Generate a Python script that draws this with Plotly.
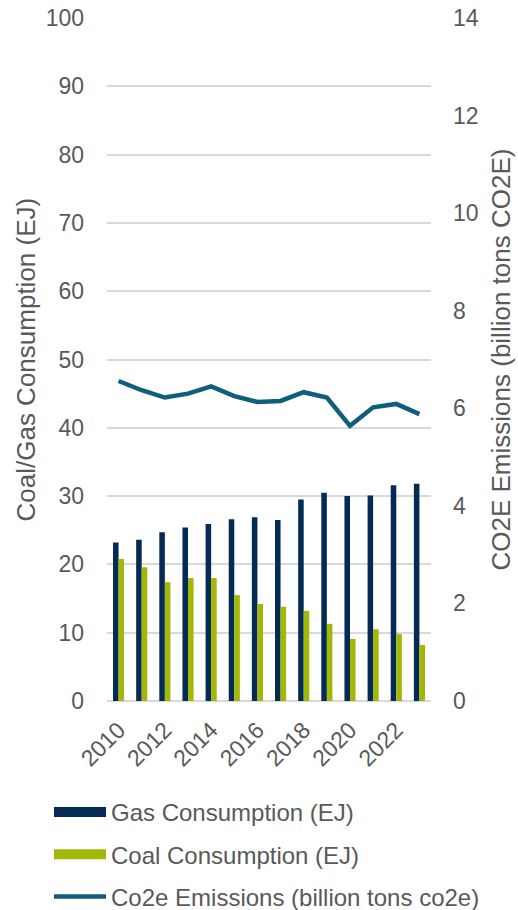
import plotly.graph_objects as go

years = [str(y) for y in range(2010, 2024)]
gas = [23.2, 23.6, 24.7, 25.4, 25.9, 26.6, 26.9, 26.5, 29.5, 30.5, 30.0, 30.1, 31.6, 31.8]
coal = [20.8, 19.6, 17.4, 18.0, 18.0, 15.5, 14.2, 13.8, 13.2, 11.3, 9.1, 10.5, 9.8, 8.2]
co2e = [6.56, 6.37, 6.22, 6.30, 6.45, 6.25, 6.13, 6.15, 6.33, 6.22, 5.64, 6.02, 6.09, 5.88]
xtick_labels = ["2010", "2012", "2014", "2016", "2018", "2020", "2022"]

FONT = "Liberation Sans"
GREY = "#595959"
GAS_C = "#032B53"
COAL_C = "#A2B708"
LINE_C = "#0F5E7C"

W, H = 518, 910
L, T = 107, 18
R = W - 431
B = H - 701
PW = W - L - R

fig = go.Figure()
fig.add_trace(go.Bar(x=years, y=gas, name="Gas Consumption (EJ)", showlegend=False,
                     marker=dict(color=GAS_C, line=dict(width=0))))
fig.add_trace(go.Bar(x=years, y=coal, name="Coal Consumption (EJ)", showlegend=False,
                     marker=dict(color=COAL_C, line=dict(width=0))))
fig.add_trace(go.Scatter(x=years, y=co2e, name="Co2e Emissions (billion tons co2e)",
                         mode="lines", yaxis="y2", showlegend=False,
                         line=dict(color=LINE_C, width=4.5)))

# legend entries (wide swatches like the original)
for nm, col, w in [("Gas Consumption (EJ)", GAS_C, 12),
                   ("Coal Consumption (EJ)", COAL_C, 12),
                   ("Co2e Emissions (billion tons co2e)", LINE_C, 4.5)]:
    fig.add_trace(go.Scatter(x=[None], y=[None], mode="lines", name=nm, legendgroup=nm,
                             line=dict(color=col, width=w), showlegend=True))

fig.update_layout(
    width=W, height=H,
    margin=dict(l=L, r=R, t=T, b=B, autoexpand=False),
    paper_bgcolor="white", plot_bgcolor="white",
    font=dict(family=FONT, size=23, color=GREY),
    barmode="group", bargap=0.52, bargroupgap=0,
    showlegend=True,
    legend=dict(orientation="v", x=(49 - L) / PW, xref="paper", xanchor="left",
                y=1 - 790 / H, yref="container", yanchor="top",
                font=dict(size=24, color=GREY, family=FONT),
                tracegroupgap=8, itemwidth=52, traceorder="grouped",
                bgcolor="rgba(0,0,0,0)"),
    xaxis=dict(type="category", tickmode="array", tickvals=xtick_labels,
               ticktext=xtick_labels, tickangle=-45, showgrid=False,
               showline=False, ticks="", automargin=False, ticklabelstandoff=10,
               tickfont=dict(size=23, color=GREY, family=FONT)),
    yaxis=dict(range=[0, 100], dtick=10, showgrid=True, gridcolor="#d9d9d9",
               gridwidth=1.5, zeroline=True, zerolinecolor="#d9d9d9", zerolinewidth=2,
               showline=False, ticks="", ticklabelstandoff=22, automargin=False,
               tickfont=dict(size=23, color=GREY, family=FONT)),
    yaxis2=dict(range=[0, 14], dtick=2, overlaying="y", side="right", showgrid=False,
                zeroline=False, showline=False, ticks="", ticklabelstandoff=21,
                automargin=False,
                tickfont=dict(size=23, color=GREY, family=FONT)),
    annotations=[
        dict(text="Coal/Gas Consumption (EJ)", textangle=-90, showarrow=False,
             xref="paper", yref="paper", x=(25 - L) / PW, y=0.5,
             xanchor="center", yanchor="middle",
             font=dict(size=26, color=GREY, family=FONT)),
        dict(text="CO2E Emissions (billion tons CO2E)", textangle=-90, showarrow=False,
             xref="paper", yref="paper", x=(500 - L) / PW, y=0.5,
             xanchor="center", yanchor="middle",
             font=dict(size=26, color=GREY, family=FONT)),
    ],
)

fig.write_html("out.html", config={"displayModeBar": False},
               post_script="document.body.style.margin='0';document.body.style.padding='0';")
